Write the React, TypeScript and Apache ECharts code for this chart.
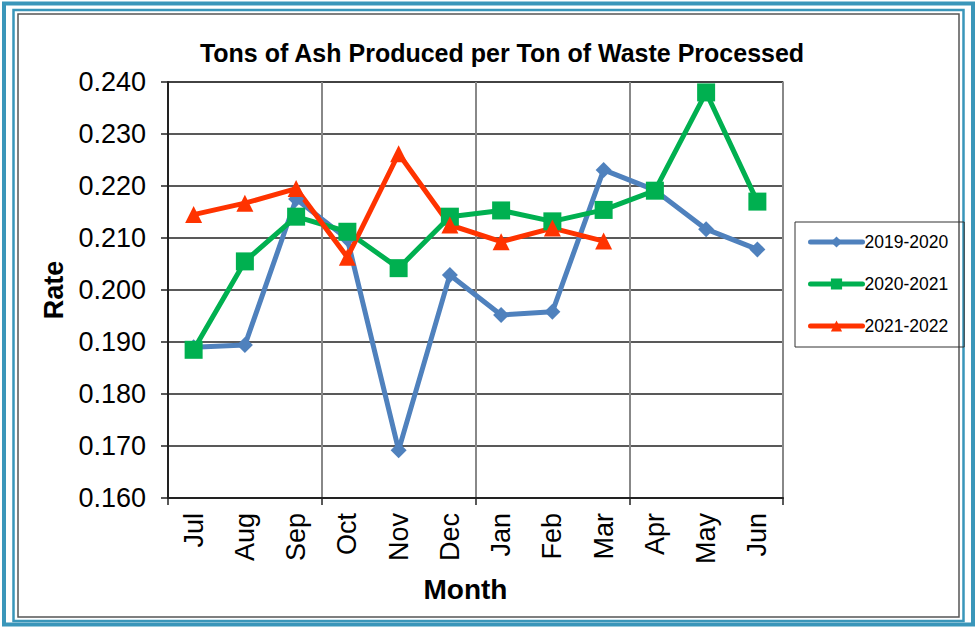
import React, { useEffect, useRef } from "react";
import * as echarts from "echarts";

const months = ["Jul", "Aug", "Sep", "Oct", "Nov", "Dec", "Jan", "Feb", "Mar", "Apr", "May", "Jun"];
const quarters = ["Q1", "Q2", "Q3", "Q4"];
const s2019 = [0.189, 0.1894, 0.2175, 0.2098, 0.1692, 0.2029, 0.1952, 0.1958, 0.2231, 0.2192, 0.2117, 0.2078];
const s2020 = [0.1885, 0.2055, 0.2141, 0.2112, 0.2042, 0.2141, 0.2153, 0.2132, 0.2154, 0.2191, 0.238, 0.217];
const s2021 = [0.2145, 0.2167, 0.2195, 0.2063, 0.2262, 0.2125, 0.2093, 0.2119, 0.2094];
const seriesNames = ["2019-2020", "2020-2021", "2021-2022"];
const colors = ["#4f81bd", "#00b050", "#ff3300"];

const FONT = "Arial, 'Liberation Sans', sans-serif";

export default function App() {
  const ref = useRef<HTMLDivElement>(null);
  useEffect(() => {
    if (!ref.current) return;
    const chart = echarts.init(ref.current, undefined, { renderer: "svg" });
    const mk = (name: string, data: number[], color: string, symbol: string, size: number) => ({
      name,
      type: "line",
      data,
      symbol,
      symbolSize: size,
      lineStyle: { color, width: 5 },
      itemStyle: { color },
      xAxisIndex: 0,
      z: 3,
    });
    chart.setOption({
      animation: false,
      backgroundColor: "#ffffff",
      title: {
        text: "Tons of Ash Produced per Ton of Waste Processed",
        left: 497,
        top: 35,
        textAlign: "center",
        textStyle: { fontFamily: FONT, fontSize: 25, fontWeight: "bold", color: "#000" },
      },
      grid: { left: 168, right: 194, top: 82, bottom: 130, show: true, borderColor: "#888", borderWidth: 1.5, backgroundColor: "transparent" },
      legend: {
        orient: "vertical",
        left: 795,
        top: 222,
        padding: [10, 16, 11, 13],
        itemGap: 22,
        itemWidth: 52,
        itemHeight: 14,
        borderColor: "#333",
        borderWidth: 1,
        data: seriesNames.map((n) => ({ name: n, lineStyle: { width: 5, cap: "round" } })),
        lineStyle: { width: 5, cap: "round" },
        textStyle: { fontFamily: FONT, fontSize: 17.5, lineHeight: 20, color: "#000", padding: [0, 0, 0, -3] },
      },
      xAxis: [
        {
          type: "category",
          data: months,
          boundaryGap: true,
          name: "Month",
          nameLocation: "middle",
          nameGap: 77,
          nameTextStyle: { fontFamily: FONT, fontSize: 28, fontWeight: "bold", color: "#000", padding: [0, 20, 0, 0] },
          axisLine: { lineStyle: { color: "#222", width: 2 } },
          axisTick: { show: false },
          axisLabel: { rotate: 90, margin: 15, interval: 0, fontFamily: FONT, fontSize: 27, color: "#000" },
          splitLine: { show: false },
          z: 2,
        },
        {
          type: "category",
          data: quarters,
          boundaryGap: true,
          position: "bottom",
          axisLine: { show: false },
          axisTick: { show: true, interval: 0, length: 7, lineStyle: { color: "#222", width: 1.5 } },
          axisLabel: { show: false },
          splitLine: { show: true, interval: 0, lineStyle: { color: "#888", width: 2 } },
        },
      ],
      yAxis: {
        type: "value",
        min: 0.16,
        max: 0.24,
        interval: 0.01,
        name: "Rate",
        nameLocation: "middle",
        nameGap: 100,
        nameTextStyle: { fontFamily: FONT, fontSize: 27, fontWeight: "bold", color: "#000" },
        axisLine: { show: true, lineStyle: { color: "#222", width: 2 } },
        axisTick: { show: true, inside: false, length: 7, lineStyle: { color: "#222", width: 1.5 } },
        axisLabel: { margin: 22, fontFamily: FONT, fontSize: 27, color: "#000", formatter: (v: number) => v.toFixed(3) },
        splitLine: { show: true, lineStyle: { color: "#222", width: 1.5 } },
      },
      series: [
        mk(seriesNames[0], s2019, colors[0], "diamond", 16),
        mk(seriesNames[1], s2020, colors[1], "rect", 18),
        mk(seriesNames[2], s2021, colors[2], "triangle", 17),
      ],
      graphic: [
        { type: "rect", shape: { x: 4, y: 3.5, width: 969, height: 621 }, style: { fill: "none", stroke: "#3a96ba", lineWidth: 4 }, silent: true },
        { type: "rect", shape: { x: 13.5, y: 10, width: 950, height: 611 }, style: { fill: "none", stroke: "#3a96ba", lineWidth: 2.5 }, silent: true },
        { type: "rect", shape: { x: 18, y: 14, width: 941, height: 603 }, style: { fill: "none", stroke: "#555", lineWidth: 1.5 }, silent: true },
      ],
    });
    return () => chart.dispose();
  }, []);
  return <div ref={ref} style={{ position: "fixed", left: 0, top: 0, width: 977, height: 628 }} />;
}
